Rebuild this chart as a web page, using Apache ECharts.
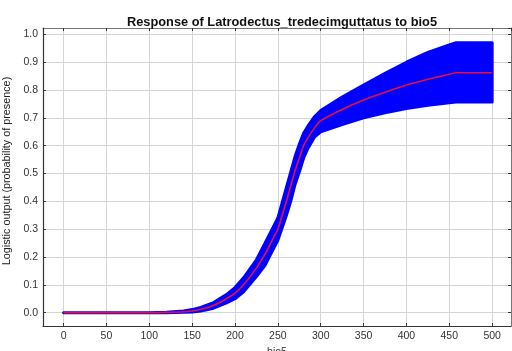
<!DOCTYPE html>
<html>
<head>
<meta charset="utf-8">
<script src="https://cdn.jsdelivr.net/npm/echarts@6/dist/echarts.min.js"></script>
<style>
  html, body { margin: 0; padding: 0; background: #fff; }
  #chart { width: 512px; height: 351px; }
</style>
</head>
<body>
<div id="chart"></div>
<script>
// bio5 values and response (mean, lower/upper band)
var xs = [0, 50, 100, 120, 140, 150, 160, 175, 190, 200, 210, 225, 235, 245, 250, 255, 260, 265, 270, 275, 280, 285, 293, 300, 325, 350, 375, 400, 425, 450, 458, 480, 500];
var meanVals = [0, 0, 0, 0.001, 0.003, 0.006, 0.012, 0.026, 0.05, 0.07, 0.1, 0.16, 0.21, 0.27, 0.30, 0.35, 0.40, 0.455, 0.51, 0.555, 0.60, 0.628, 0.665, 0.69, 0.73, 0.764, 0.792, 0.818, 0.839, 0.857, 0.862, 0.862, 0.862];
var upperVals = [0, 0, 0, 0.001, 0.006, 0.011, 0.019, 0.036, 0.065, 0.09, 0.125, 0.19, 0.25, 0.31, 0.34, 0.395, 0.45, 0.505, 0.56, 0.605, 0.645, 0.67, 0.705, 0.726, 0.775, 0.818, 0.86, 0.90, 0.935, 0.962, 0.97, 0.97, 0.97];
var lowerVals = [0, 0, 0, 0, 0.001, 0.002, 0.006, 0.016, 0.035, 0.05, 0.075, 0.13, 0.17, 0.23, 0.26, 0.305, 0.35, 0.40, 0.46, 0.505, 0.555, 0.59, 0.632, 0.65, 0.676, 0.70, 0.718, 0.734, 0.745, 0.754, 0.757, 0.757, 0.757];

var pairs = function (ys) { return xs.map(function (x, i) { return [x, ys[i]]; }); };
var bandData = xs.map(function (x, i) { return [x, lowerVals[i], upperVals[i]]; });

var font = 'Liberation Sans, Arial, Helvetica, sans-serif';

function axisPair(isX) {
    var common = {
        type: 'value',
        min: isX ? -24 : -0.048,
        max: isX ? 522 : 1.023,
        splitNumber: 10
    };
    var main = Object.assign({}, common, {
        axisLine: { onZero: false, lineStyle: { color: '#333', width: 1.2 } },
        axisTick: { inside: true, length: 3, lineStyle: { color: '#333' } },
        axisLabel: { fontFamily: font, fontSize: 10.5, color: '#333', margin: 5, showMinLabel: false, showMaxLabel: false },
        splitLine: { show: true, lineStyle: { color: '#d4d4d4', width: 1 } }
    });
    var frame = Object.assign({}, common, {
        position: isX ? 'top' : 'right',
        axisLine: { onZero: false, lineStyle: { color: '#777', width: 1 } },
        axisTick: { inside: true, length: 3, lineStyle: { color: '#333' } },
        axisLabel: { show: false }, splitLine: { show: false }
    });
    return [main, frame];
}

var xAxes = axisPair(true);
xAxes[0].name = 'bio5';
xAxes[0].nameLocation = 'middle';
xAxes[0].nameGap = 10;
xAxes[0].nameTextStyle = { fontFamily: font, fontSize: 10.5, color: '#333' };

var yAxes = axisPair(false);
yAxes[0].name = 'Logistic output (probability of presence)';
yAxes[0].nameLocation = 'middle';
yAxes[0].nameGap = 26;
yAxes[0].nameTextStyle = { fontFamily: font, fontSize: 10.8, color: '#222', padding: [0, 0, 0, 12] };
yAxes[0].axisLabel.formatter = function (v) { return v.toFixed(1); };

var chart = echarts.init(document.getElementById('chart'));
chart.setOption({
    animation: false,
    title: {
        text: 'Response of Latrodectus_tredecimguttatus to bio5',
        left: 277, top: 11, textAlign: 'center',
        textStyle: { fontFamily: font, fontSize: 12.8, fontWeight: 'bold', color: '#111' }
    },
    grid: { left: 43, right: 1, top: 28, bottom: 25, outerBoundsMode: 'none', containLabel: false },
    xAxis: xAxes,
    yAxis: yAxes,
    series: [
        {
            name: 'band', type: 'custom', data: bandData, silent: true,
            renderItem: function (params, api) {
                if (params.dataIndex !== 0) return null;
                var top = bandData.map(function (d) { return api.coord([d[0], d[2]]); });
                var bottom = bandData.map(function (d) { return api.coord([d[0], d[1]]); }).reverse();
                return {
                    type: 'polygon',
                    shape: { points: top.concat(bottom) },
                    style: { fill: '#0000ff', stroke: '#0000ff', lineWidth: 3, lineJoin: 'round' }
                };
            }
        },
        {
            name: 'mean', type: 'line', data: pairs(meanVals), smooth: 0.2,
            showSymbol: false, lineStyle: { color: '#e8103a', width: 1.6 }
        }
    ]
});
</script>
</body>
</html>
